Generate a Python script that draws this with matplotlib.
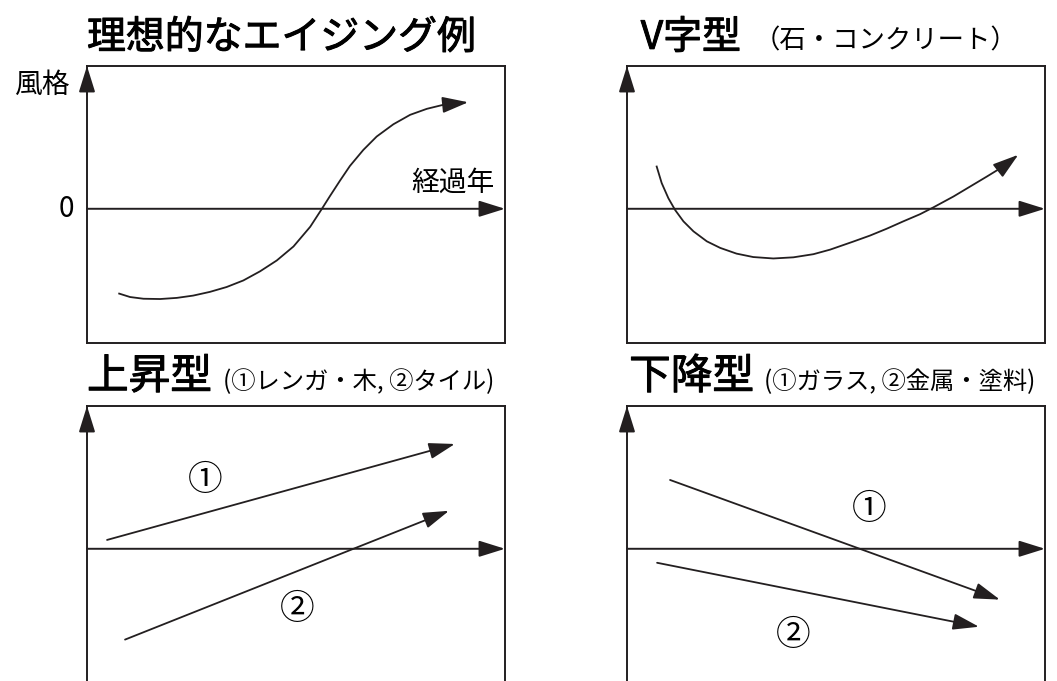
import matplotlib
matplotlib.use("Agg")
import matplotlib.pyplot as plt
import matplotlib.patheffects as pe

plt.rcParams['font.family'] = ['Noto Sans CJK JP', 'DejaVu Sans']

INK = "#231f20"

# panel titles
titles = ["理想的なエイジング例", "V字型", "上昇型", "下降型"]
subtitles = ["", "（石・コンクリート）", "(①レンガ・木, ②タイル)", "(①ガラス, ②金属・塗料)"]

# 理想的なエイジング例 : S-curve (x = 経過年, y = 風格)
ideal_x = [0.77, 1.03, 1.35, 1.75, 2.15, 2.54, 2.94, 3.34, 3.74, 4.14, 4.54, 4.94,
           5.34, 5.62, 5.81, 6.05, 6.29, 6.61, 6.93, 7.33, 7.73, 8.13, 8.52, 9.12]
ideal_y = [-2.97, -3.09, -3.15, -3.16, -3.12, -3.04, -2.91, -2.74, -2.51, -2.19, -1.81, -1.32,
           -0.63, 0.00, 0.44, 0.98, 1.50, 2.06, 2.53, 2.96, 3.29, 3.50, 3.64, 3.73]

# V字型 (石・コンクリート)
v_x = [0.71, 0.83, 0.99, 1.15, 1.35, 1.59, 1.91, 2.23, 2.62, 3.02, 3.50, 3.98, 4.46,
       4.86, 5.41, 5.81, 6.21, 6.61, 7.01, 7.33, 7.81, 8.21, 8.61, 9.00, 9.36]
v_y = [1.48, 0.90, 0.37, -0.04, -0.44, -0.79, -1.14, -1.37, -1.57, -1.69, -1.74, -1.70, -1.59,
       -1.43, -1.15, -0.94, -0.70, -0.44, -0.19, 0.05, 0.43, 0.78, 1.13, 1.48, 1.89]

# 上昇型 : ①, ② straight arrows (start, end)
up1_x, up1_y = [0.48, 8.80], [0.31, 3.67]
up2_x, up2_y = [0.91, 8.66], [-3.18, 1.33]
up_labels = ["①", "②"]
up_label_x, up_label_y = [2.82, 5.02], [2.38, -2.13]

# 下降型
down1_x, down1_y = [1.03, 8.92], [2.41, -1.78]
down2_x, down2_y = [0.72, 8.42], [-0.49, -2.73]
down_labels = ["①", "②"]
down_label_x, down_label_y = [5.79, 3.97], [1.36, -3.04]

W, H = 1057, 681
fig = plt.figure(figsize=(W / 100, H / 100), dpi=100)

XMAX, YMAX, YMIN = 10.0, 5.0, -4.7
HEAD = "-|>,head_length=0.8,head_width=0.25"
title_fx = [pe.withStroke(linewidth=0.7, foreground="black")]


def make_ax(left_px, top_px):
    w_px, h_px = 418, 277
    ax = fig.add_axes([left_px / W, (H - top_px - h_px) / H, w_px / W, h_px / H])
    ax.set_xlim(0, XMAX)
    ax.set_ylim(YMIN, YMAX)
    ax.set_xticks([])
    ax.set_yticks([])
    for s in ax.spines.values():
        s.set_color(INK)
        s.set_linewidth(1.4)
        s.set_clip_on(False)
    # x axis (zero line) with arrow
    ax.annotate("", xy=(XMAX, 0), xytext=(0, 0), annotation_clip=False,
                arrowprops=dict(arrowstyle=HEAD, mutation_scale=20, color=INK,
                                lw=1.4, shrinkA=0, shrinkB=0))
    # y axis arrow
    ax.annotate("", xy=(0, YMAX), xytext=(0, YMAX - 1), annotation_clip=False,
                arrowprops=dict(arrowstyle=HEAD, mutation_scale=20, color=INK,
                                lw=1.4, shrinkA=0, shrinkB=0))
    return ax


def arrow_line(ax, xs, ys):
    ax.plot(xs[:-1], ys[:-1], color=INK, lw=1.3, solid_joinstyle="round")
    ax.annotate("", xy=(xs[-1], ys[-1]), xytext=(xs[-2], ys[-2]),
                arrowprops=dict(arrowstyle=HEAD, mutation_scale=20, color=INK,
                                lw=1.3, shrinkA=0, shrinkB=0))


def add_title(ax, i, x, size, sub_x=None, sub_size=18):
    ax.text(x, 5.6, titles[i], fontsize=size, color="black", path_effects=title_fx,
            ha="left", va="baseline", clip_on=False)
    if subtitles[i]:
        ax.text(sub_x, 5.6, subtitles[i], fontsize=sub_size, color="black",
                ha="left", va="baseline", clip_on=False)


ax1 = make_ax(87, 66)
ax2 = make_ax(627, 66)
ax3 = make_ax(87, 406)
ax4 = make_ax(627, 406)

# panel 1
arrow_line(ax1, ideal_x, ideal_y)
add_title(ax1, 0, 0.0, 28)
ax1.text(-0.42, 4.35, "風格", fontsize=20, ha="right", va="center", clip_on=False)
ax1.text(-0.3, 0, "0", fontsize=20, ha="right", va="center", clip_on=False)
ax1.text(9.74, 0.9, "経過年", fontsize=20, ha="right", va="center")

# panel 2
arrow_line(ax2, v_x, v_y)
add_title(ax2, 1, 0.33, 28, 3.02, 19)

# panel 3
arrow_line(ax3, up1_x, up1_y)
arrow_line(ax3, up2_x, up2_y)
add_title(ax3, 2, 0.0, 30, 3.25, 17.5)
for lab, lx, ly in zip(up_labels, up_label_x, up_label_y):
    ax3.text(lx, ly, lab, fontsize=25, ha="center", va="center")

# panel 4
arrow_line(ax4, down1_x, down1_y)
arrow_line(ax4, down2_x, down2_y)
add_title(ax4, 3, 0.05, 30, 3.28, 17.5)
for lab, lx, ly in zip(down_labels, down_label_x, down_label_y):
    ax4.text(lx, ly, lab, fontsize=25, ha="center", va="center")

fig.savefig("out.png", dpi=100)
